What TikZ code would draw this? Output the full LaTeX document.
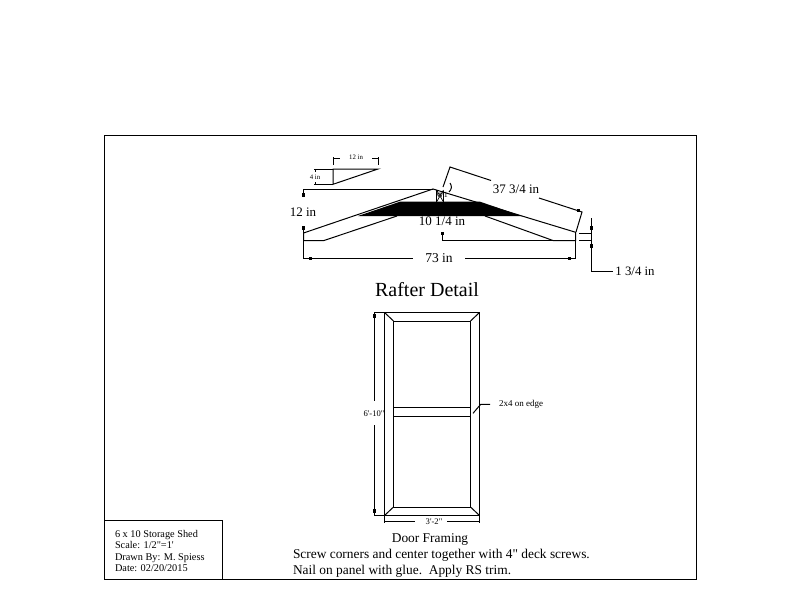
\documentclass[tikz,border=0pt]{standalone}
\usepackage{fontspec}
\newfontfamily\rf{Liberation Serif}
\tikzset{
 ln/.style={line width=1pt,black,line cap=butt,line join=miter},
 txt/.style={inner sep=0pt,outer sep=0pt,text=black},
}
\newcommand{\dimtick}[2]{\fill[black] (#1-1.5,#2-1.7) rectangle (#1+1.5,#2+1.7);}
\begin{document}
\begin{tikzpicture}[x=1pt,y=-1pt]
\rf
\useasboundingbox (0,0) rectangle (800,600);
\fill[white] (0,0) rectangle (800,600);
% sheet frame and title block
\draw[ln] (104,135) rectangle (696,579);
\draw[ln] (104,520) -- (222.5,520) -- (222.5,579);
\node[txt,anchor=base west,font=\fontsize{10.3}{11}\selectfont] at (115,537) {6 x 10 Storage Shed};
\node[txt,anchor=base west,font=\fontsize{10.3}{11}\selectfont] at (115,548.5) {Scale: 1/2"=1'};
\node[txt,anchor=base west,font=\fontsize{10.3}{11}\selectfont] at (115,560) {Drawn By: M. Spiess};
\node[txt,anchor=base west,font=\fontsize{10.3}{11}\selectfont] at (115,571.5) {Date: 02/20/2015};
% rafter: black band first
\fill[black] (358,216) -- (400,201.7) -- (480,201.7) -- (522,216) -- cycle;
\draw[ln] (303.5,233) -- (433,189) -- (575.7,232.3) -- (575.7,240.5) -- (553,240.5) -- (485,216);
\draw[ln] (303.5,233) -- (303.5,240.5) -- (324,240.5) -- (397,216);
% ridge block
\draw[ln] (436.5,189.5) -- (436.5,202) (443.5,191) -- (443.5,202);
\draw[ln,line width=0.7pt] (436.5,190) -- (443.5,202) (443.5,190) -- (436.5,202);
\node[txt,font=\fontsize{8}{9}\selectfont] at (442,195) {W1};
\draw[ln] (443,187) -- (450,167) -- (491,180.5);
\draw[ln] (450,183) .. controls (452,186) and (452,189) .. (449,192);
% 37 3/4 dimension
\node[txt,font=\fontsize{13}{14}\selectfont] at (516,189.5) {37 3/4 in};
\draw[ln] (539,198) -- (582,212) -- (576,232);
\dimtick{578}{210.5}
% 12 in
\draw[ln] (303.5,197) -- (303.5,189.3) -- (433,189.3);
\dimtick{303.5}{195}
\node[txt,font=\fontsize{13}{14}\selectfont] at (303,212) {12 in};
\draw[ln] (303.5,226) -- (303.5,233);
\dimtick{303.5}{228}
% slope triangle
\draw[ln] (333,169) -- (378,169) -- (333,184.3) -- cycle;
\draw[ln] (333,157) -- (333,165) (378,157) -- (378,165);
\draw[ln] (333,158) -- (340,158) (372,158) -- (378,158);
\node[txt,font=\fontsize{6.8}{8}\selectfont] at (356,157.5) {12 in};
\draw[ln] (314,169) -- (333,169) (314,184.3) -- (333,184.3);
\draw[ln] (315,169) -- (315,172) (315,182) -- (315,184.3);
\node[txt,font=\fontsize{6.8}{8}\selectfont] at (315,176.8) {4 in};
% 10 1/4
\node[txt,font=\fontsize{13}{14}\selectfont] at (442,221.5) {10 1/4 in};
\draw[ln] (442,232) -- (442,240.5) -- (553,240.5);
\dimtick{442}{233.5}
% 73 in
\draw[ln] (303.5,240.5) -- (303.5,258.3) -- (413,258.3);
\draw[ln] (465,258.3) -- (575.7,258.3) -- (575.7,240.5);
\dimtick{310}{258.3}
\dimtick{569}{258.3}
\node[txt,font=\fontsize{13.5}{15}\selectfont] at (439,258) {73 in};
% 1 3/4
\draw[ln] (579,233) -- (591,233) (579,240.5) -- (591,240.5);
\draw[ln] (591,218) -- (591,271) -- (613,271);
\dimtick{591}{228}
\dimtick{591}{246}
\node[txt,font=\fontsize{12.8}{14}\selectfont] at (635,271) {1 3/4 in};
% titles
\node[txt,font=\fontsize{20}{22}\selectfont] at (427,289.5) {Rafter Detail};
% door
\draw[ln] (384.5,312.5) rectangle (479.5,515.5);
\draw[ln] (393.5,321) rectangle (470.5,507);
\draw[ln] (384.5,312.5) -- (393.5,321) (479.5,312.5) -- (470.5,321)
          (384.5,515.5) -- (393.5,507) (479.5,515.5) -- (470.5,507);
\draw[ln] (393.5,407.3) -- (470.5,407.3) (393.5,416.3) -- (470.5,416.3);
% 6'-10"
\draw[ln] (384,312.5) -- (374,312.5) -- (374,401);
\draw[ln] (374,425) -- (374,515.5) -- (384,515.5);
\dimtick{374}{316}
\dimtick{374}{511}
\node[txt,font=\fontsize{8.6}{9}\selectfont] at (374,414) {6'-10"};
% 3'-2"
\draw[ln] (384.5,516) -- (384.5,523) (479.5,516) -- (479.5,523);
\draw[ln] (384.5,521.7) -- (415,521.7) (447,521.7) -- (479.5,521.7);
\node[txt,font=\fontsize{8.6}{9}\selectfont] at (434,522) {3'-2"};
% leader
\draw[ln] (473,413.3) -- (480.7,404.3) -- (490,404.3);
\node[txt,anchor=west,font=\fontsize{9}{10}\selectfont] at (499,404) {2x4 on edge};
% notes
\node[txt,font=\fontsize{13.4}{15}\selectfont] at (430,540) {Door Framing};
\node[txt,anchor=base west,font=\fontsize{13.4}{15}\selectfont] at (293,558) {Screw corners and center together with 4" deck screws.};
\node[txt,anchor=base west,font=\fontsize{13.4}{15}\selectfont] at (293,574) {Nail on panel with glue.\ \ Apply RS trim.};
\end{tikzpicture}
\end{document}
